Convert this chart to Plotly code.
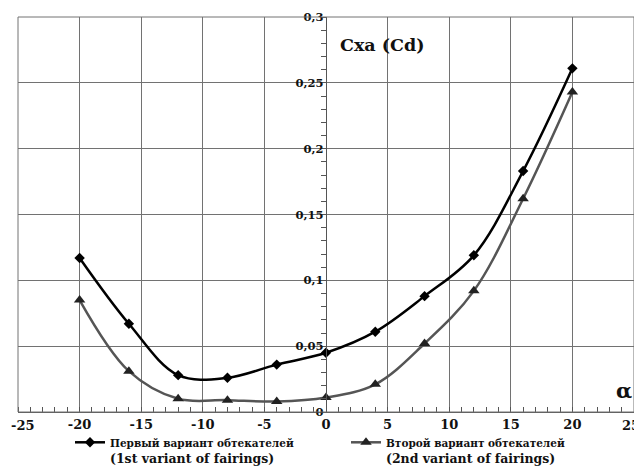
import plotly.graph_objects as go

alpha = [-20, -16, -12, -8, -4, 0, 4, 8, 12, 16, 20]
cd_variant1 = [0.117, 0.067, 0.028, 0.026, 0.036, 0.045, 0.061, 0.088, 0.119, 0.183, 0.261]
cd_variant2 = [0.085, 0.031, 0.010, 0.009, 0.008, 0.011, 0.021, 0.052, 0.092, 0.162, 0.243]

name1_ru = "Первый вариант обтекателей"
name1_en = "(1st variant of fairings)"
name2_ru = "Второй вариант обтекателей"
name2_en = "(2nd variant of fairings)"

x_ticks = [-25, -20, -15, -10, -5, 0, 5, 10, 15, 20, 25]
y_ticks = [0, 0.05, 0.1, 0.15, 0.2, 0.25, 0.3]
y_ticktext = ["0", "0,05", "0,1", "0,15", "0,2", "0,25", "0,3"]

SERIF = "DejaVu Serif"
TICK_SIZE = 13


def legend_text(ru, en):
    return (f"<b><span style='font-size:10.5px'>{ru}</span><br>"
            f"<span style='font-size:12.5px'>{en}</span></b>")


fig = go.Figure()
fig.add_trace(go.Scatter(
    x=alpha, y=cd_variant1, mode="lines+markers",
    name=legend_text(name1_ru, name1_en), legend="legend",
    line=dict(color="#000000", width=2.5, shape="spline", smoothing=1),
    marker=dict(symbol="diamond", size=8, color="#000000"),
))
fig.add_trace(go.Scatter(
    x=alpha, y=cd_variant2, mode="lines+markers",
    name=legend_text(name2_ru, name2_en), legend="legend2",
    line=dict(color="#555555", width=2.5, shape="spline", smoothing=1),
    marker=dict(symbol="triangle-up", size=10, color="#222222"),
))

legend_common = dict(
    xref="container", yref="container", xanchor="left", yanchor="top",
    font=dict(family=SERIF, size=12, color="#111111"),
    bgcolor="rgba(0,0,0,0)", itemwidth=30, tracegroupgap=0, valign="top",
)

# inner tick labels via the axis; the two edge labels are placed so they stay inside the page
edge_ticks = (x_ticks[0], x_ticks[-1])
x_ticktext = ["" if v in edge_ticks else f"<b>{v}</b>" for v in x_ticks]
edge_annotations = [
    dict(text=f"<b>{x_ticks[0]}</b>", x=x_ticks[0], y=0, xref="x", yref="y",
         xanchor="left", yanchor="top", xshift=-9, yshift=-4, showarrow=False,
         font=dict(family=SERIF, size=TICK_SIZE, color="#111111")),
    dict(text=f"<b>{x_ticks[-1]}</b>", x=x_ticks[-1], y=0, xref="x", yref="y",
         xanchor="right", yanchor="top", xshift=8, yshift=-4, showarrow=False,
         font=dict(family=SERIF, size=TICK_SIZE, color="#111111")),
]

W, H = 634, 460
fig.update_layout(
    width=W, height=H,
    margin=dict(l=10, r=8, t=9, b=56, autoexpand=False),
    paper_bgcolor="white", plot_bgcolor="white",
    font=dict(family=SERIF, color="#111111"),
    showlegend=True,
    legend=dict(x=62 / W, y=1 - 420 / H, **legend_common),
    legend2=dict(x=338 / W, y=1 - 420 / H, **legend_common),
    xaxis=dict(
        range=[-25, 25], tickvals=x_ticks, ticktext=x_ticktext,
        showgrid=True, gridcolor="#727272", gridwidth=1,
        zeroline=False, showline=True, linecolor="#555555", linewidth=1.2,
        ticks="", tickfont=dict(family=SERIF, size=TICK_SIZE, color="#111111"),
        minor=dict(dtick=1, tick0=0, ticks="inside", ticklen=5, tickcolor="#555555", showgrid=False),
        fixedrange=True, automargin=False,
    ),
    yaxis=dict(
        range=[0, 0.3], tickvals=y_ticks, ticktext=[f"<b>{t}</b>" for t in y_ticktext],
        anchor="free", position=0.5,
        showgrid=True, gridcolor="#727272", gridwidth=1,
        zeroline=False, showline=True, linecolor="#555555", linewidth=1.2,
        ticks="", tickfont=dict(family=SERIF, size=11.5, color="#111111"),
        ticklabeloverflow="allow",
        minor=dict(dtick=0.01, tick0=0, ticks="outside", ticklen=5, tickcolor="#555555", showgrid=False),
        fixedrange=True, automargin=False,
    ),
    shapes=[
        dict(type="rect", xref="paper", yref="paper", x0=0, x1=1, y0=0, y1=1,
             line=dict(color="#727272", width=1)),
    ],
    annotations=[
        dict(text="<b>Cxa (Cd)</b>", x=4.6, y=0.279, xref="x", yref="y",
             showarrow=False, font=dict(family=SERIF, size=17.5, color="#111111")),
        dict(text="<b>α</b>", x=24.2, y=0.016, xref="x", yref="y",
             showarrow=False, font=dict(family=SERIF, size=21, color="#111111")),
    ] + edge_annotations,
)

fig.write_html("out.html")
